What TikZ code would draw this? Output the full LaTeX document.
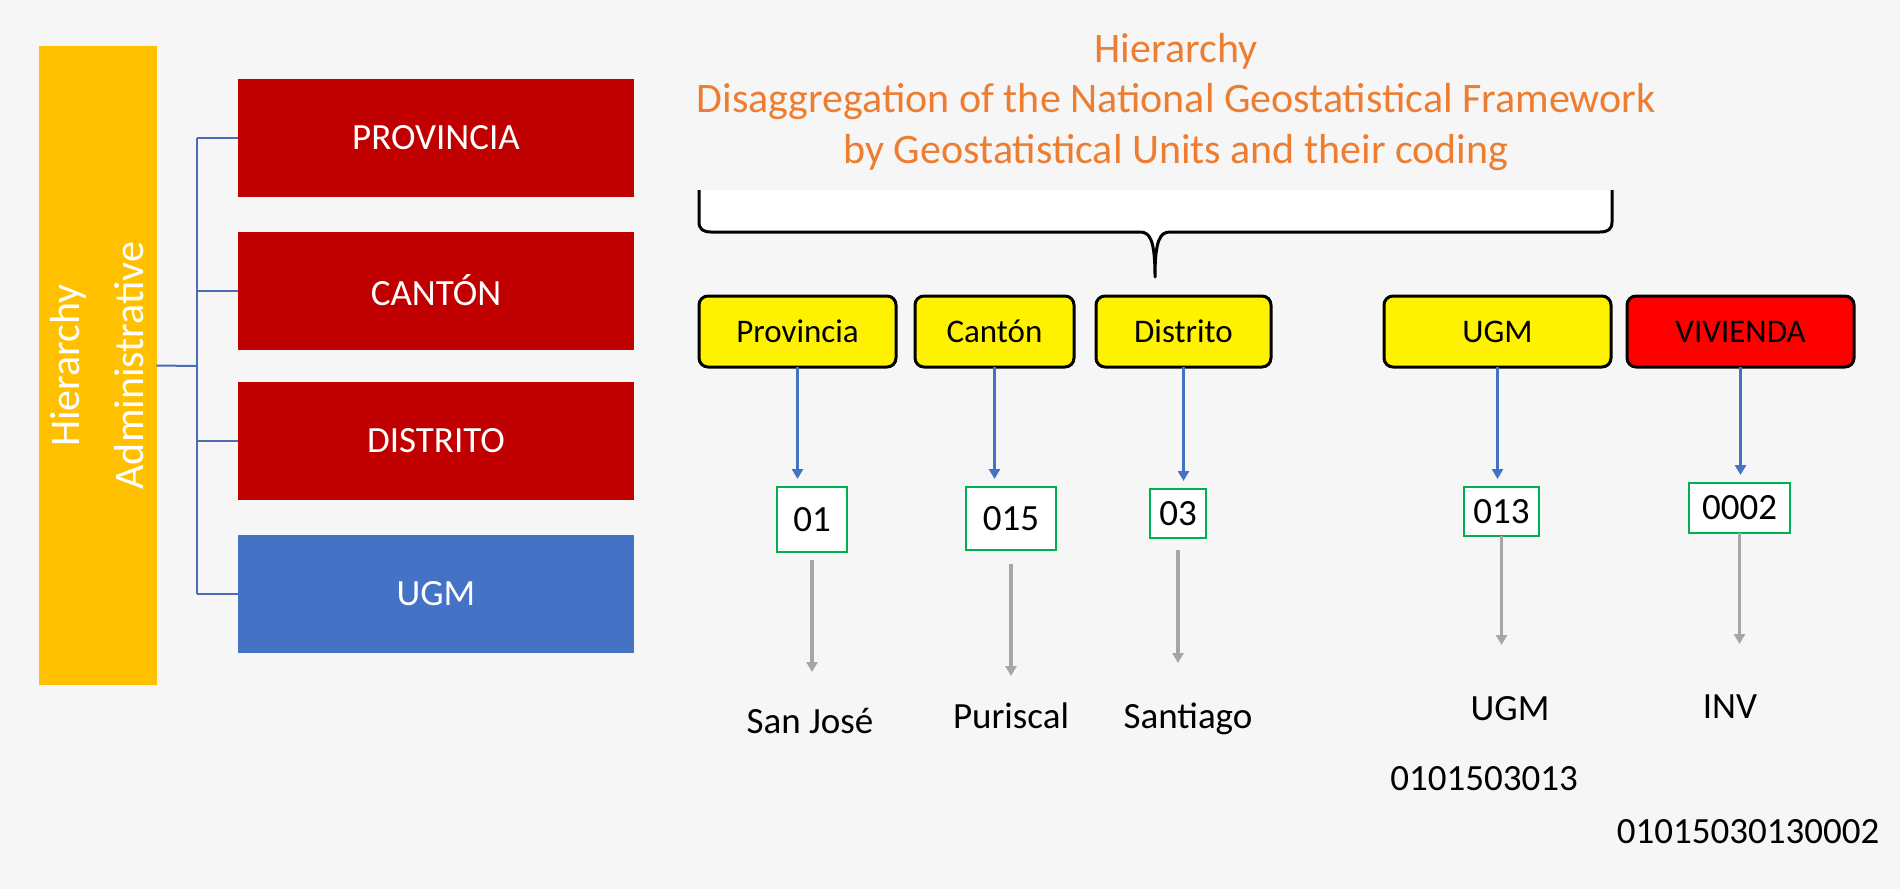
\documentclass[tikz,border=0pt]{standalone}
\usepackage{fontspec}
\setmainfont{Carlito}
\usetikzlibrary{arrows.meta}
\definecolor{bggray}{HTML}{F6F6F6}
\definecolor{admgold}{HTML}{FFC000}
\definecolor{lvlred}{HTML}{C00000}
\definecolor{ugmblue}{HTML}{4472C4}
\definecolor{linkblue}{HTML}{4A6DB5}
\definecolor{titleorange}{HTML}{ED7D31}
\definecolor{codegreen}{HTML}{00B050}
\definecolor{arrgray}{HTML}{A6A6A6}

\begin{document}
\begin{tikzpicture}
	[x=1pt,y=-1pt,every node/.style={inner sep=0pt,outer sep=0pt},
	admbox/.style={rectangle,fill=admgold,text=white,align=center,minimum width=639pt,minimum height=118pt,font=\fontsize{42}{64}\selectfont},
	lvlbox/.style={rectangle,fill=lvlred,text=white,minimum width=396pt,minimum height=118pt,font=\fontsize{37}{44}\selectfont},
	unitbox/.style={rectangle,rounded corners=9pt,draw=black,line width=3pt,fill=yellow,minimum height=71pt,font=\fontsize{33}{40}\selectfont},
	codebox/.style={rectangle,draw=codegreen,line width=1.8pt,fill=white,font=\fontsize{37}{44}\selectfont},
	nametext/.style={anchor=base,font=\fontsize{37}{44}\selectfont},
	bluearr/.style={draw=ugmblue,line width=3.2pt,-{Triangle[length=10pt,width=11pt]}},
	grayarr/.style={draw=arrgray,line width=3.2pt,-{Triangle[length=10pt,width=11pt]}},
	branch/.style={draw=linkblue,line width=2pt}]
	\useasboundingbox (0,0) rectangle (1900,889);
	\fill[bggray] (0,0) rectangle (1900,889);
	
	% administrative hierarchy
	\node[admbox,rotate=90] (adm) at (97.5,365.5) {Hierarchy\\Administrative};
	\node[lvlbox] (lprov) at (436,138) {PROVINCIA};
	\node[lvlbox] (lcanton) at (436,290.5) {CANT\'ON};
	\node[lvlbox] (ldistrito) at (436,441) {DISTRITO};
	\node[lvlbox,fill=ugmblue] (lugm) at (436,593.5) {UGM};
	\coordinate (fork) at (197,366);
	\draw[branch] (adm.south) -- (fork);
	\draw[branch] (lprov.west -| fork) -- (lugm.west -| fork);
	\foreach \to in {lprov,lcanton,ldistrito,lugm}
	\draw[branch] (\to.west -| fork) -- (\to.west);
	
	% title and brace
	\node[font=\fontsize{42}{50.5}\selectfont,text=titleorange,align=center,anchor=north] (title) at (1176,33)
	{Hierarchy\\Disaggregation of the National Geostatistical Framework\\by Geostatistical Units and their coding};
	\fill[white] (699,190) -- (699,222) .. controls (699,229) and (703,232) .. (711,232) -- (1140,232)
	.. controls (1150,232) and (1155,240) .. (1155,277) .. controls (1155,240) and (1160,232) .. (1170,232)
	-- (1600,232) .. controls (1608,232) and (1612,229) .. (1612,222) -- (1612,190) -- cycle;
	\draw[line width=3pt,line join=round] (699,190) -- (699,222) .. controls (699,229) and (703,232) .. (711,232) -- (1140,232)
	.. controls (1150,232) and (1155,240) .. (1155,277) .. controls (1155,240) and (1160,232) .. (1170,232)
	-- (1600,232) .. controls (1608,232) and (1612,229) .. (1612,222) -- (1612,190);
	
	% geostatistical units
	\node[unitbox,minimum width=197pt] (prov) at (797.5,331.5) {Provincia};
	\node[unitbox,minimum width=159pt] (canton) at (994.5,331.5) {Cant\'on};
	\node[unitbox,minimum width=175pt] (distrito) at (1183.5,331.5) {Distrito};
	\node[unitbox,minimum width=227pt] (ugm) at (1497.5,331.5) {UGM};
	\node[unitbox,minimum width=227pt,fill=red] (vivienda) at (1740.5,331.5) {VIVIENDA};
	
	% codes
	\node[codebox,minimum width=70pt,minimum height=65pt] (c01) at (812,519.5) {01};
	\node[codebox,minimum width=90pt,minimum height=63pt] (c015) at (1011,518.5) {015};
	\node[codebox,minimum width=56pt,minimum height=49pt] (c03) at (1178,513.5) {03};
	\node[codebox,minimum width=75pt,minimum height=49pt] (c013) at (1501.5,511.5) {013};
	\node[codebox,minimum width=101pt,minimum height=50pt] (c0002) at (1739.5,508) {0002};
	
	\foreach \from/\to in {prov/c01,canton/c015,distrito/c03,ugm/c013,vivienda/c0002}
	\draw[bluearr,shorten >=8pt] (\from) -- (\from |- \to.north);
	
	% names
	\node[nametext] (sanjose) at (810,733) {San Jos\'e};
	\node[nametext] (puriscal) at (1011,728) {Puriscal};
	\node[nametext] (santiago) at (1188,728) {Santiago};
	\node[nametext] (ugmname) at (1510,720) {UGM};
	\node[nametext] (inv) at (1730,718) {INV};
	\node[nametext] (ugmcode) at (1484,790) {0101503013};
	\node[nametext] (invcode) at (1748,843) {01015030130002};
	\coordinate (e01) at (812,672);
	\coordinate (e015) at (1011,676);
	\coordinate (e03) at (1178,663);
	\coordinate (e013) at (1501.5,645);
	\coordinate (e0002) at (1739.5,644);
	
	\foreach \from/\to/\gap in {c01/e01/8,c015/e015/14,c03/e03/12,c013/e013/0,c0002/e0002/0}
	\draw[grayarr,shorten <=\gap pt] (\from.south) -- (\from.south |- \to);
	\end{tikzpicture}
\end{document}
